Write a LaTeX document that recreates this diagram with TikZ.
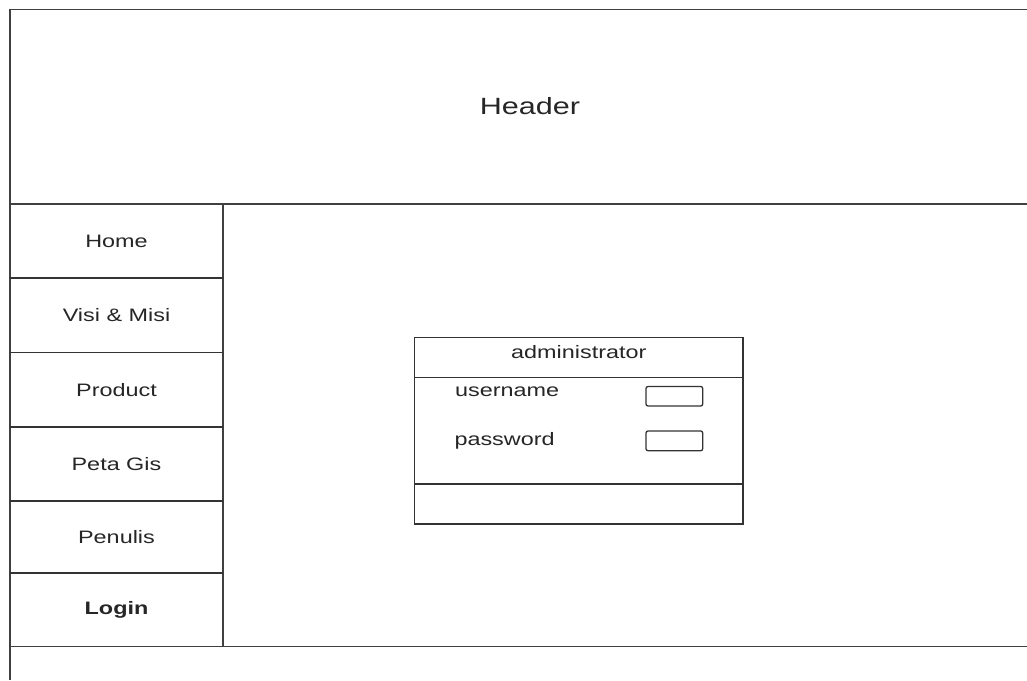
\documentclass[tikz,border=0pt]{standalone}
\usepackage{fontspec}
\newfontfamily\uifont[FakeStretch=1.3]{Liberation Sans}
\begin{document}
\begin{tikzpicture}[x=1pt,y=-1pt,
  frame/.style={draw=black!75,line width=1.6pt},
  thin/.style={draw=black!80,line width=1.3pt},
  lbl/.style={inner sep=0pt,anchor=base,text=black!85,font=\uifont\fontsize{18}{20}\selectfont},
  lblL/.style={lbl,anchor=base west},
  field/.style={draw=black!80,line width=1.3pt,rounded corners=2pt}]
\useasboundingbox[fill=white] (0,0) rectangle (1027,680);
% outer frame
\draw[frame] (10,680) -- (10,9.5) -- (1027,9.5);
\draw[frame] (10,204) -- (1027,204);
\draw[frame] (10,646.5) -- (1027,646.5);
\draw[frame] (223,204) -- (223,646.5);
% menu separators
\foreach \yy in {278,352.5,427,501,573}
  \draw[thin] (10,\yy) -- (223,\yy);
% header
\node[lbl,font=\uifont\fontsize{23.5}{26}\selectfont] (header) at (530,114.3) {Header};
% menu items
\node[lbl] (home) at (116.5,247) {Home};
\node[lbl] (visi) at (116.5,321.5) {Visi \& Misi};
\node[lbl] (product) at (116.5,396) {Product};
\node[lbl] (peta) at (116.5,470) {Peta Gis};
\node[lbl] (penulis) at (116.5,543.5) {Penulis};
\node[lbl,font=\uifont\bfseries\fontsize{18}{20}\selectfont] (login) at (116.5,614) {Login};
% login box
\draw[thin] (414.7,337.7) rectangle (743,524);
\draw[thin] (414.7,377.5) -- (743,377.5);
\draw[thin] (414.7,484) -- (743,484);
\node[lbl] (admin) at (578.8,358.5) {administrator};
\node[lblL] (user) at (455,396.7) {username};
\node[lblL] (pass) at (454.3,445) {password};
\draw[field] (646,386.5) rectangle (702.7,406);
\draw[field] (646,431) rectangle (702.7,450.7);
\end{tikzpicture}
\end{document}
